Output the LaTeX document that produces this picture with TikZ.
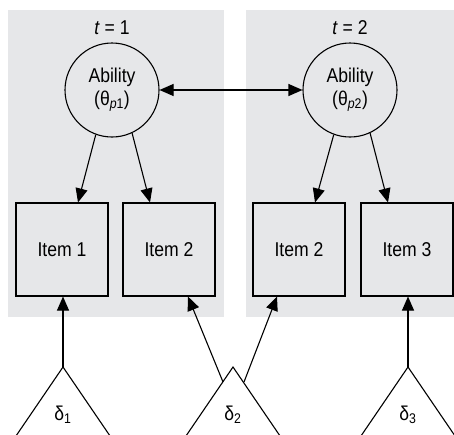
\documentclass[tikz,border=0pt]{standalone}
\usepackage{fontspec}
\setmainfont{Liberation Sans}[FakeStretch=0.88]
\usepackage{tikz}
\usetikzlibrary {arrows.meta}
\definecolor{panelgray}{RGB}{230,231,233}

\begin{document}
\begin{tikzpicture} [x = 1pt, y = -1pt]
        %style
        \tikzset{ability/.style = {shape=circle, draw, fill=panelgray, minimum size=94pt, inner sep=0pt, align=center, line width=1.1pt, font=\fontsize{20}{23}\selectfont}}
        \tikzset{item/.style = {shape=rectangle, draw, fill=panelgray, minimum width=92pt, minimum height=93pt, line width=1.1pt, font=\fontsize{20}{23}\selectfont}}
        \tikzset{lbl/.style = {font=\fontsize{20}{23}\selectfont}}
        \tikzset{arr/.style = {line width=1.1pt, -{Triangle[length=14pt, width=12pt]}}}
        \tikzset{dblarr/.style = {line width=1.1pt, {Triangle[length=14pt, width=12pt]}-{Triangle[length=14pt, width=12pt]}}}
        \useasboundingbox (0,0) rectangle (454,434);
        \clip (0,0) rectangle (454,434);
        % panels
        \fill[panelgray] (8,10) rectangle (224,317);
        \fill[panelgray] (246,10) rectangle (454,317);
        \node[lbl]       (t1)  at  (112,28) {\textit{t} = 1};
        \node[lbl]       (t2)  at  (350,28) {\textit{t} = 2};
        \node[ability]   (ab1) at  (112,90) {Ability\\(θ\textsubscript{\textit{p}1})};
        \node[ability]   (ab2) at  (350,90) {Ability\\(θ\textsubscript{\textit{p}2})};
        \node[item]      (i1)  at  (62,249.5)  {Item 1};
        \node[item]      (i2)  at  (169,249.5) {Item 2};
        \node[item]      (i2b) at  (299,249.5) {Item 2};
        \node[item]      (i3)  at  (407,249.5) {Item 3};
        % triangles
        \coordinate      (d1)  at  (63,367);
        \coordinate      (d2)  at  (233,367);
        \coordinate      (d3)  at  (408,367);
        \coordinate      (d2l) at  (223,382);
        \coordinate      (d2r) at  (244,382);
        \foreach \d in {d1,d2,d3}
            \draw [line width=1.1pt] (\d) ++(-60,88) -- (\d) -- ++(60,88);
        \node[lbl]       (dl1) at  (63,415)  {δ\textsubscript{1}};
        \node[lbl]       (dl2) at  (233,415) {δ\textsubscript{2}};
        \node[lbl]       (dl3) at  (408,415) {δ\textsubscript{3}};
        % connectors
        \draw [dblarr] (ab1) to (ab2);
        \draw [arr] (ab1.250) to ([xshift=16]i1.north);
        \draw [arr] (ab1.295) to ([xshift=-19]i2.north);
        \draw [arr] (ab2.250) to ([xshift=16]i2b.north);
        \draw [arr] (ab2.295) to ([xshift=-19]i3.north);
        \draw [arr] (d1) to (d1 |- i1.south);
        \draw [arr] (d2l) to ([xshift=19]i2.south);
        \draw [arr] (d2r) to ([xshift=-22]i2b.south);
        \draw [arr] (d3) to (d3 |- i3.south);
\end{tikzpicture}
\end{document}
